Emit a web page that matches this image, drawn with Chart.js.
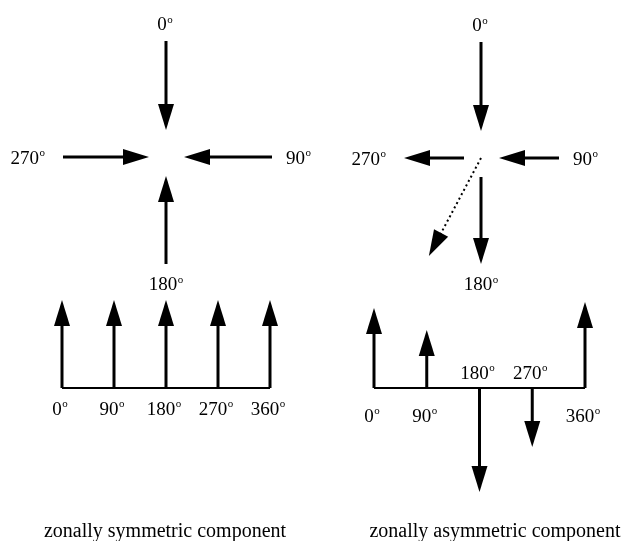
<!DOCTYPE html>
<html>
<head>
<meta charset="utf-8">
<script src="https://cdn.jsdelivr.net/npm/chart.js@4"></script>
<style>
  html, body { margin: 0; padding: 0; background: #fff; }
  #wrap { width: 624px; height: 541px; }
</style>
</head>
<body>
<div id="wrap"><canvas id="diagram" width="624" height="541"></canvas></div>
<script>
// bottom panels: meridional wind at each longitude (+ = toward the pole)
const longitudes = [0, 90, 180, 270, 360];
const lonLabels = ['0', '90', '180', '270', '360'];
const symmetricWind = [88, 88, 88, 88, 88];
const asymmetricWind = [80, 58, -104, -59, 86];

// top panels: same wind seen from above the pole, by compass bearing
const bearings = [0, 90, 180, 270];
const bearingLabels = ['0', '90', '180', '270'];
const symmetricPolar = [89, 88, 88, 86];
const asymmetricPolar = [89, 60, -87, -60];

// dotted resultant in the asymmetric polar view
const resultantBearing = [208];
const resultantLength = [111];

const captions = ['zonally symmetric component', 'zonally asymmetric component'];

// layout (page units = pixels, y grows downward)
const baseY = 388;
const innerGap = [27, 18, 19, 17];
const HEAD_LEN = 26, HEAD_W = 8;
const FONT = "'Liberation Serif', 'Times New Roman', serif";

const panels = [
  { centre: { x: 166, y: 157 }, polar: symmetricPolar, sticks: symmetricWind,
    x0: 62, x1: 270, below: 20, caption: captions[0], captionX: 165 },
  { centre: { x: 481, y: 158 }, polar: asymmetricPolar, sticks: asymmetricWind,
    x0: 374, x1: 585, below: 27, caption: captions[1], captionX: 495, resultant: true }
];

function unit(b) {
  const r = b * Math.PI / 180;
  return { x: Math.sin(r), y: -Math.cos(r) };
}

// shaft stops inside the head so the tip stays sharp
function arrow(from, to, extra) {
  const len = Math.hypot(to.x - from.x, to.y - from.y);
  const k = (len - HEAD_LEN * 0.5) / len;
  const base = { x: from.x + (to.x - from.x) * k, y: from.y + (to.y - from.y) * k };
  return Object.assign({
    data: [from, base],
    tip: to,
    showLine: true,
    borderColor: '#000',
    borderWidth: 3,
    borderCapStyle: 'butt',
    pointRadius: 0
  }, extra || {});
}

const datasets = [];
const labels = []; // {text, x, y, align}

panels.forEach(p => {
  const c = p.centre;
  // polar arrows
  bearings.forEach((b, i) => {
    const u = unit(b);
    const v = p.polar[i];
    const rIn = innerGap[i], rOut = innerGap[i] + Math.abs(v);
    const inner = { x: c.x + u.x * rIn, y: c.y + u.y * rIn };
    const outer = { x: c.x + u.x * rOut, y: c.y + u.y * rOut };
    datasets.push(v > 0 ? arrow(outer, inner) : arrow(inner, outer));
    labels.push({ text: bearingLabels[i], bearing: b, r: rOut, c: c });
  });
  if (p.resultant) {
    const u = unit(resultantBearing[0]);
    const to = { x: c.x + u.x * resultantLength[0], y: c.y + u.y * resultantLength[0] };
    datasets.push(arrow({ x: c.x, y: c.y }, to, { borderWidth: 2, borderDash: [2, 3] }));
  }
  // longitude axis
  datasets.push({
    data: [{ x: p.x0, y: baseY }, { x: p.x1, y: baseY }],
    showLine: true, borderColor: '#000', borderWidth: 2, pointRadius: 0
  });
  longitudes.forEach((lon, i) => {
    const px = p.x0 + lon / 360 * (p.x1 - p.x0);
    const v = p.sticks[i];
    datasets.push(arrow({ x: px, y: baseY }, { x: px, y: baseY - v }));
    labels.push({ text: lonLabels[i], x: px - 2, y: v > 0 ? baseY + p.below : baseY - 16 });
  });
});

function degWidth(ctx, text) {
  ctx.font = '19px ' + FONT;
  const w = ctx.measureText(text).width;
  ctx.font = '11px ' + FONT;
  return w + ctx.measureText('o').width + 0.5;
}

function drawDeg(ctx, text, cx, cy) {
  const total = degWidth(ctx, text);
  const left = cx - total / 2;
  const base = cy + 6.5;
  ctx.fillStyle = '#000';
  ctx.textAlign = 'left';
  ctx.textBaseline = 'alphabetic';
  ctx.font = '19px ' + FONT;
  ctx.fillText(text, left, base);
  const w = ctx.measureText(text).width;
  ctx.font = '11px ' + FONT;
  ctx.fillText('o', left + w + 0.5, base - 7.5);
}

const arrowHeads = {
  id: 'arrowHeads',
  afterDatasetsDraw(chart) {
    const { ctx, scales: { x, y } } = chart;
    chart.data.datasets.forEach(ds => {
      if (!ds.tip) return;
      const tx = x.getPixelForValue(ds.tip.x), ty = y.getPixelForValue(ds.tip.y);
      const sx = x.getPixelForValue(ds.data[0].x), sy = y.getPixelForValue(ds.data[0].y);
      const a = Math.atan2(ty - sy, tx - sx);
      ctx.save();
      ctx.translate(tx, ty);
      ctx.rotate(a);
      ctx.beginPath();
      ctx.moveTo(0, 0);
      ctx.lineTo(-HEAD_LEN, -HEAD_W);
      ctx.lineTo(-HEAD_LEN, HEAD_W);
      ctx.closePath();
      ctx.fillStyle = '#000';
      ctx.fill();
      ctx.restore();
    });
  }
};

const textLabels = {
  id: 'textLabels',
  afterDraw(chart) {
    const { ctx, scales: { x, y } } = chart;
    ctx.save();
    labels.forEach(l => {
      let lx, ly;
      if (l.bearing !== undefined) {
        const u = unit(l.bearing);
        const half = degWidth(ctx, l.text) / 2;
        let pad;
        if (l.bearing === 0) pad = 17.5;
        else if (l.bearing === 180) pad = 19.5;
        else if (l.bearing === 90) pad = half + 14;
        else pad = half + 18;
        lx = l.c.x + u.x * (l.r + pad) - (l.bearing === 0 ? 1 : 0);
        ly = l.c.y + u.y * (l.r + pad);
      } else {
        lx = l.x; ly = l.y;
      }
      drawDeg(ctx, l.text, x.getPixelForValue(lx), y.getPixelForValue(ly));
    });
    ctx.font = '20px ' + FONT;
    ctx.textAlign = 'center';
    ctx.textBaseline = 'alphabetic';
    panels.forEach(p => {
      ctx.fillText(p.caption, x.getPixelForValue(p.captionX), y.getPixelForValue(537));
    });
    ctx.restore();
  }
};

new Chart(document.getElementById('diagram'), {
  type: 'scatter',
  data: { datasets: datasets },
  options: {
    responsive: false,
    animation: false,
    events: [],
    layout: { padding: 0 },
    plugins: {
      legend: { display: false },
      tooltip: { enabled: false }
    },
    scales: {
      x: { type: 'linear', min: 0, max: 624, display: false },
      y: { type: 'linear', min: 0, max: 541, reverse: true, display: false }
    }
  },
  plugins: [arrowHeads, textLabels]
});
</script>
</body>
</html>
